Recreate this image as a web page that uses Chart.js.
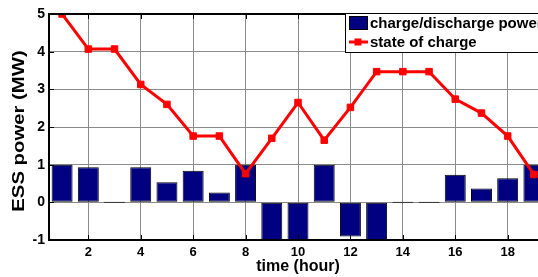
<!DOCTYPE html>
<html>
<head>
<meta charset="utf-8">
<script src="https://cdn.jsdelivr.net/npm/chart.js@4"></script>
<style>
  html, body { margin: 0; padding: 0; background: #fff; overflow: hidden; }
  #wrap { width: 560px; height: 277px; }
</style>
</head>
<body>
<div id="wrap"><canvas id="c" width="560" height="277"></canvas></div>
<script>
const hours = [1, 2, 3, 4, 5, 6, 7, 8, 9, 10, 11, 12, 13, 14, 15, 16, 17, 18, 19];
const chargePower = [1.0, 0.93, 0, 0.93, 0.53, 0.84, 0.26, 1.0, -1.0, -1.0, 1.0, -0.91, -1.0, 0, 0, 0.73, 0.37, 0.64, 1.0];
const stateOfCharge = [5.0, 4.07, 4.07, 3.13, 2.6, 1.76, 1.76, 0.76, 1.7, 2.65, 1.65, 2.52, 3.47, 3.47, 3.47, 2.74, 2.37, 1.76, 0.74];
const xTickValues = [2, 4, 6, 8, 10, 12, 14, 16, 18];
const yTickValues = [-1, 0, 1, 2, 3, 4, 5];
const seriesNames = ['charge/discharge power', 'state of charge'];
const axisTitles = { x: 'time (hour)', y: 'ESS power (MW)' };

const FONT = '"Liberation Sans", Arial, sans-serif';

const boxPlugin = {
  id: 'boxPlugin',
  afterDraw(chart) {
    const { ctx } = chart;
    // y axis title (stretched along its length like the reference)
    ctx.save();
    ctx.translate(20, 131);
    ctx.rotate(-Math.PI / 2);
    ctx.scale(1.27, 1);
    ctx.font = 'bold 16px ' + FONT;
    ctx.fillStyle = '#000';
    ctx.textAlign = 'center';
    ctx.textBaseline = 'middle';
    ctx.fillText(axisTitles.y, 0, 0);
    ctx.restore();
  },
  afterDatasetsDraw(chart) {
    const { ctx, chartArea: a, scales } = chart;
    ctx.save();
    // inward tick marks
    ctx.strokeStyle = '#000';
    ctx.lineWidth = 1;
    ctx.beginPath();
    xTickValues.forEach(v => {
      const x = Math.round(scales.x.getPixelForValue(v)) + 0.5;
      ctx.moveTo(x, a.bottom); ctx.lineTo(x, a.bottom - 5);
      ctx.moveTo(x, a.top); ctx.lineTo(x, a.top + 5);
    });
    yTickValues.forEach(v => {
      const y = Math.round(scales.y.getPixelForValue(v)) + 0.5;
      ctx.moveTo(a.left, y); ctx.lineTo(a.left + 5, y);
      ctx.moveTo(a.right, y); ctx.lineTo(a.right - 5, y);
    });
    ctx.stroke();
    // axes box
    ctx.lineWidth = 2;
    ctx.strokeRect(a.left, a.top, a.right - a.left, a.bottom - a.top);

    // legend box inside plot (top right)
    const ds = chart.data.datasets;
    const barDs = ds.find(d => d.type === 'bar');
    const lineDs = ds.find(d => d.type === 'line');
    ctx.font = 'bold 15px ' + FONT;
    const lx = 345, ly = 13;
    const textX = 370;
    let maxW = 0;
    ds.forEach(d => { maxW = Math.max(maxW, ctx.measureText(d.label).width); });
    const lw = textX - lx + maxW + 6, lh = 39;
    ctx.fillStyle = '#fff';
    ctx.fillRect(lx, ly, lw, lh);
    ctx.lineWidth = 1;
    ctx.strokeStyle = '#000';
    ctx.strokeRect(lx + 0.5, ly + 0.5, lw, lh);
    // bar swatch
    ctx.fillStyle = barDs.backgroundColor;
    ctx.fillRect(349, 16, 19, 14);
    ctx.strokeRect(349.5, 16.5, 18, 13);
    // line swatch
    ctx.strokeStyle = lineDs.borderColor;
    ctx.lineWidth = 3;
    ctx.beginPath(); ctx.moveTo(349, 42); ctx.lineTo(368, 42); ctx.stroke();
    ctx.fillStyle = lineDs.pointBackgroundColor;
    ctx.fillRect(354.5, 38.5, 7, 7);
    // texts
    ctx.fillStyle = '#000';
    ctx.textBaseline = 'middle';
    ctx.textAlign = 'left';
    ctx.fillText(barDs.label, textX, 24);
    ctx.fillText(lineDs.label, textX, 43);
    ctx.restore();
  }
};

new Chart(document.getElementById('c'), {
  data: {
    labels: hours,
    datasets: [
      {
        type: 'line',
        label: seriesNames[1],
        data: hours.map((h, i) => ({ x: h, y: stateOfCharge[i] })),
        borderColor: '#ff0000',
        borderWidth: 3,
        pointStyle: 'rect',
        pointRadius: 4.6,
        pointBackgroundColor: '#ff0000',
        pointBorderColor: '#ff0000',
        pointBorderWidth: 1,
        tension: 0,
        order: 0
      },
      {
        type: 'bar',
        label: seriesNames[0],
        data: hours.map((h, i) => ({ x: h, y: chargePower[i] })),
        backgroundColor: '#000080',
        borderColor: '#000000',
        borderWidth: 1,
        borderSkipped: false,
        barPercentage: 0.8,
        categoryPercentage: 1.0,
        minBarLength: 1,
        order: 1
      }
    ]
  },
  options: {
    responsive: false,
    devicePixelRatio: 1,
    animation: false,
    layout: { padding: { top: 14, right: 13, left: 0, bottom: 0 } },
    plugins: { legend: { display: false }, tooltip: { enabled: false } },
    scales: {
      x: {
        type: 'linear',
        min: 0.5,
        max: 19.5,
        offset: false,
        afterFit(s) { s.height = 37; },
        afterBuildTicks(s) { s.ticks = xTickValues.map(v => ({ value: v })); },
        ticks: {
          font: { family: FONT, size: 13, weight: 'bold' },
          color: '#000',
          padding: 5,
          maxRotation: 0,
          autoSkip: false
        },
        grid: { color: '#8a8a8a', lineWidth: 1, drawTicks: false, offset: false },
        border: { display: false },
        title: {
          display: true,
          text: axisTitles.x,
          font: { family: FONT, size: 16, weight: 'bold' },
          color: '#000',
          padding: { top: 0, bottom: 1 }
        }
      },
      y: {
        type: 'linear',
        min: -1,
        max: 5,
        afterFit(s) { s.width = 49; },
        afterBuildTicks(s) { s.ticks = yTickValues.map(v => ({ value: v })); },
        ticks: {
          font: { family: FONT, size: 14, weight: 'bold' },
          color: '#000',
          padding: 4
        },
        grid: { color: '#8a8a8a', lineWidth: 1, drawTicks: false },
        border: { display: false },
        title: { display: false }
      }
    }
  },
  plugins: [boxPlugin]
});
</script>
</body>
</html>
